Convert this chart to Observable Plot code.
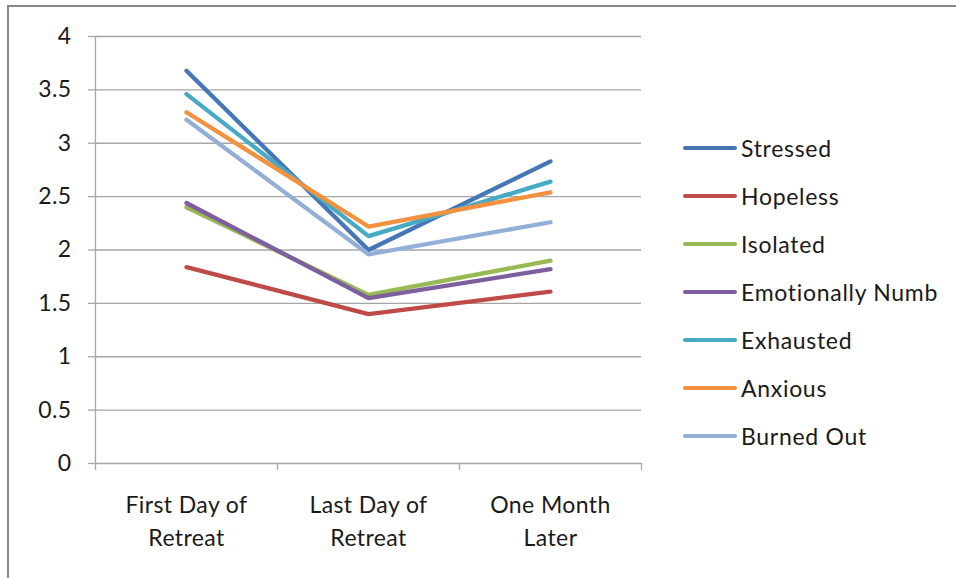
<!DOCTYPE html>
<html>
<head>
<meta charset="utf-8">
<script src="https://cdn.jsdelivr.net/npm/d3@7"></script>
<script src="https://cdn.jsdelivr.net/npm/@observablehq/plot@0.6"></script>
<style>
  html, body { margin: 0; padding: 0; background: #fff; }
  #wrap { position: relative; width: 956px; height: 578px; overflow: hidden; font-family: Lato, "Open Sans", sans-serif; }
  #frame { position: absolute; left: 7px; top: 5px; width: 960px; height: 600px; border-left: 2.5px solid #888; border-top: 2.5px solid #888; }
  #chart { position: absolute; left: 0; top: 0; }
  #chart svg text { letter-spacing: 0.4px; }
  #legend { position: absolute; left: 683px; top: 0; }
  .item { position: absolute; left: 0; display: flex; align-items: center; height: 30px; white-space: nowrap; font-size: 23px; letter-spacing: 0.7px; color: #1a1a1a; }
  .sw { width: 54px; height: 4px; border-radius: 2px; margin-right: 4px; }
</style>
</head>
<body>
<div id="wrap">
  <div id="frame"></div>
  <div id="chart"></div>
  <div id="legend"></div>
</div>
<script>
// ---- data ----
const categories = ["First Day of\nRetreat", "Last Day of\nRetreat", "One Month\nLater"];
const seriesNames = ["Stressed", "Hopeless", "Isolated", "Emotionally Numb", "Exhausted", "Anxious", "Burned Out"];
const seriesColors = ["#4577B6", "#BE4B48", "#98B954", "#7D5FA0", "#46AAC5", "#F3913F", "#93AFD8"];
const stressed        = [3.68, 2.00, 2.83];
const hopeless        = [1.84, 1.40, 1.61];
const isolated        = [2.40, 1.58, 1.90];
const emotionallyNumb = [2.44, 1.55, 1.82];
const exhausted       = [3.46, 2.13, 2.64];
const anxious         = [3.29, 2.22, 2.54];
const burnedOut       = [3.22, 1.96, 2.26];
const yTicks = [0, 0.5, 1, 1.5, 2, 2.5, 3, 3.5, 4];
const categoryBounds = [-0.5, 0.5, 1.5, 2.5];

const seriesValues = [stressed, hopeless, isolated, emotionallyNumb, exhausted, anxious, burnedOut];
const rows = [];
seriesNames.forEach((s, k) => seriesValues[k].forEach((v, i) => rows.push({series: s, i, value: v})));

const gray = "#a6a6a6";
const chart = Plot.plot({
  width: 956,
  height: 578,
  marginLeft: 95,
  marginRight: 315,
  marginTop: 36,
  marginBottom: 115,
  style: {fontFamily: "Lato, 'Open Sans', sans-serif", fontSize: "23px", color: "#1a1a1a", background: "transparent"},
  x: {type: "linear", domain: [-0.5, 2.5]},
  y: {domain: [0, 4]},
  color: {domain: seriesNames, range: seriesColors},
  marks: [
    Plot.gridY({ticks: yTicks, stroke: gray, strokeOpacity: 1, strokeWidth: 1.3}),
    Plot.axisY({ticks: yTicks, tickSize: 7, tickPadding: 17, stroke: gray, strokeWidth: 1.3, strokeOpacity: 1, fontSize: 23, fill: "#1a1a1a", tickFormat: d => String(d), label: null}),
    Plot.ruleX([-0.5], {y1: 0, y2: 4, stroke: gray, strokeWidth: 1.3}),
    Plot.axisX({ticks: categoryBounds, tickSize: 7, stroke: gray, strokeWidth: 1.3, strokeOpacity: 1, text: null, label: null}),
    Plot.axisX({ticks: [0, 1, 2], tickSize: 0, tickPadding: 27, tickFormat: i => categories[i], fontSize: 23, lineHeight: 1.4, fill: "#1a1a1a", label: null}),
    Plot.line(rows, {x: "i", y: "value", z: "series", stroke: "series", strokeWidth: 4.3, strokeLinecap: "round", strokeLinejoin: "round"})
  ]
});
document.getElementById("chart").appendChild(chart);

const legend = document.getElementById("legend");
seriesNames.forEach((s, k) => {
  const item = document.createElement("div");
  item.className = "item";
  item.style.top = (150 + 48 * k - 17) + "px";
  const sw = document.createElement("div");
  sw.className = "sw";
  sw.style.background = seriesColors[k];
  const t = document.createElement("span");
  t.textContent = s;
  item.appendChild(sw);
  item.appendChild(t);
  legend.appendChild(item);
});
</script>
</body>
</html>
